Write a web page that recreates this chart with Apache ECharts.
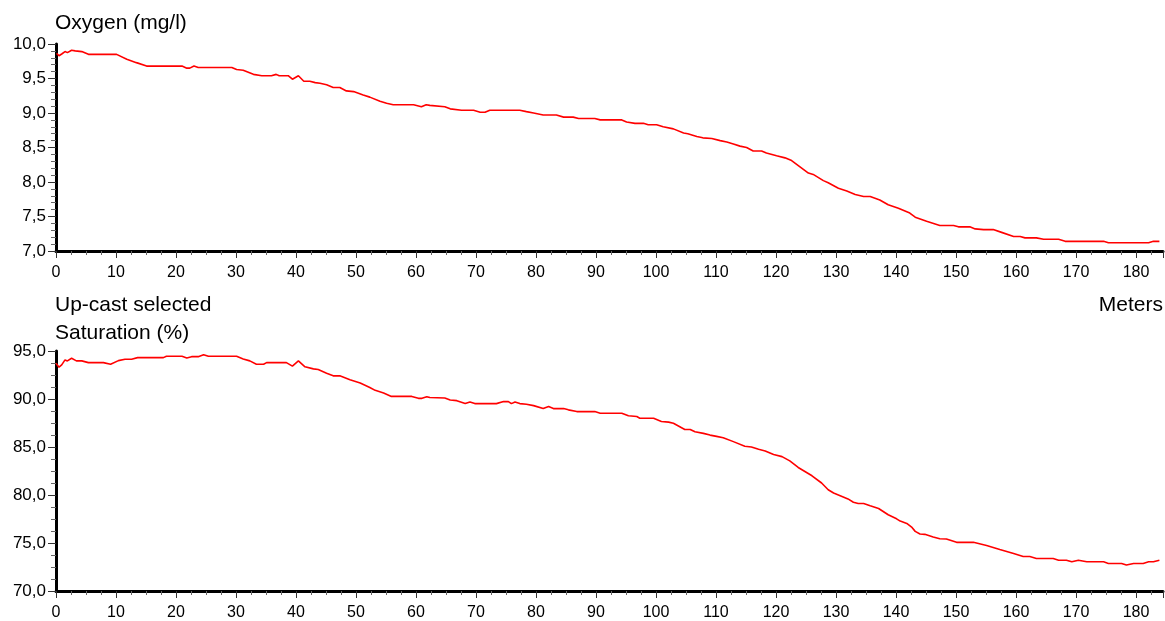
<!DOCTYPE html>
<html>
<head>
<meta charset="utf-8">
<script src="https://cdn.jsdelivr.net/npm/echarts@6/dist/echarts.min.js"></script>
<style>
html,body{margin:0;padding:0;background:#fff;}
#chart{width:1165px;height:621px;}
</style>
</head>
<body>
<div id="chart"></div>
<script>
// Depth in meters and values
const oxyDepth = [0.1,0.5,0.95,1.5,1.9,2.6,3.2,4.3,5.4,10.1,11.8,13.4,15.1,21.0,21.8,22.3,23.0,23.7,29.3,30.1,31.2,32.9,34.3,35.9,36.7,37.2,38.7,39.4,40.4,41.3,42.3,43.2,44.0,45.1,46.2,47.3,48.4,49.6,51.2,52.3,54.0,55.1,56.2,59.6,60.9,61.7,62.3,64.8,65.7,67.6,69.6,70.7,71.5,72.3,77.3,78.4,79.6,81.2,83.4,84.6,86.2,87.1,89.8,90.7,94.3,95.1,96.5,97.9,98.7,100.1,101.2,102.9,104.6,105.3,106.8,107.8,109.3,110.7,111.8,112.9,114.0,115.1,116.2,117.6,118.4,120.1,121.5,122.6,124.0,125.4,126.2,127.9,128.7,130.4,131.8,133.2,134.6,135.7,137.3,138.7,140.4,142.3,143.2,145.1,147.3,149.6,150.4,152.3,153.2,154.6,156.2,157.6,159.6,160.7,161.5,163.4,164.6,167.1,168.2,174.6,175.4,182.1,182.9,183.9];
const oxyValue = [9.865,9.83,9.855,9.89,9.875,9.91,9.90,9.89,9.85,9.85,9.78,9.73,9.68,9.68,9.65,9.65,9.68,9.66,9.66,9.63,9.62,9.56,9.54,9.54,9.56,9.54,9.54,9.49,9.54,9.46,9.46,9.44,9.43,9.41,9.37,9.37,9.32,9.31,9.26,9.23,9.17,9.14,9.12,9.12,9.09,9.12,9.11,9.09,9.06,9.04,9.04,9.01,9.01,9.04,9.04,9.02,9.00,8.97,8.97,8.94,8.94,8.92,8.92,8.90,8.90,8.87,8.85,8.85,8.83,8.83,8.80,8.77,8.71,8.70,8.66,8.64,8.63,8.60,8.58,8.55,8.52,8.50,8.45,8.45,8.42,8.38,8.35,8.31,8.22,8.13,8.11,8.02,7.99,7.91,7.87,7.82,7.79,7.79,7.74,7.67,7.62,7.55,7.49,7.43,7.37,7.37,7.35,7.35,7.32,7.31,7.31,7.27,7.21,7.21,7.19,7.19,7.17,7.17,7.14,7.14,7.12,7.12,7.14,7.14];

const satDepth = [0,0.3,0.5,0.95,1.5,1.9,2.6,3.4,4.3,5.4,7.9,9.1,10.4,11.5,12.6,13.6,17.9,18.4,21.0,21.8,22.6,23.7,24.6,25.4,30.1,31.2,32.3,33.4,34.6,35.1,38.4,39.4,40.4,41.5,42.9,43.7,45.1,46.2,47.3,49.0,50.7,52.3,53.2,54.6,55.9,59.3,60.4,61.0,61.8,62.3,64.8,65.7,66.8,68.2,69.0,69.8,73.4,74.6,75.4,75.9,76.5,77.3,78.4,79.6,81.2,82.1,82.9,84.6,85.4,86.8,89.8,90.7,94.3,95.4,96.8,97.3,97.6,98.2,99.6,100.9,102.1,102.9,104.8,105.7,106.5,107.9,109.0,110.1,111.2,112.9,114.8,115.9,117.1,118.2,119.6,121.0,122.3,123.7,124.0,126.0,127.6,128.7,129.6,130.7,132.0,132.9,133.7,134.6,135.7,137.1,138.7,140.1,140.7,141.8,142.6,143.2,144.0,144.8,146.2,147.3,148.4,150.1,152.9,155.1,157.3,159.6,161.2,162.3,163.4,166.2,167.1,168.4,169.3,170.4,171.8,174.6,175.4,177.6,178.4,179.6,181.2,182.1,182.9,183.9];
const satValue = [93.73,93.8,93.31,93.55,94.07,93.97,94.24,93.97,93.97,93.79,93.79,93.62,94.0,94.14,94.14,94.31,94.31,94.45,94.45,94.28,94.41,94.41,94.62,94.45,94.45,94.17,93.97,93.62,93.62,93.79,93.79,93.42,93.97,93.35,93.14,93.07,92.69,92.41,92.41,92.0,91.66,91.20,90.90,90.63,90.27,90.27,90.07,90.07,90.24,90.15,90.1,89.9,89.83,89.52,89.69,89.52,89.52,89.73,89.73,89.52,89.69,89.52,89.45,89.31,89.0,89.21,89.0,89.0,88.87,88.69,88.69,88.52,88.52,88.25,88.17,88.0,88.2,88.0,88.0,87.66,87.59,87.48,86.83,86.83,86.59,86.42,86.24,86.11,85.97,85.56,85.07,85.0,84.76,84.59,84.21,84.0,83.55,82.87,82.77,82.0,81.25,80.55,80.21,79.93,79.59,79.25,79.11,79.11,78.87,78.59,77.94,77.52,77.28,77.04,76.66,76.21,75.94,75.90,75.63,75.45,75.42,75.07,75.07,74.73,74.32,73.90,73.59,73.59,73.39,73.39,73.21,73.21,73.04,73.21,73.04,73.04,72.87,72.87,72.70,72.87,72.87,73.04,73.04,73.21];

const xTicks = {min: 0, max: 184.5, interval: 10};
const oxyTicks = {min: 7, max: 10, interval: 0.5};
const satTicks = {min: 70, max: 95, interval: 5};
const titles = {top: 'Oxygen (mg/l)', bottom1: 'Up-cast selected', bottom2: 'Saturation (%)', unit: 'Meters'};

const pairs = (xs, ys) => xs.map((x, i) => [x, ys[i]]);
const fontFam = '"Liberation Sans", Arial, sans-serif';

function xAxis(gridIndex) {
  return {
    type: 'value', gridIndex,
    min: xTicks.min, max: xTicks.max, interval: xTicks.interval,
    axisLine: {show: true, onZero: false, lineStyle: {color: '#000', width: 3}},
    axisTick: {show: true, inside: false, length: 7, lineStyle: {color: '#333', width: 1}},
    minorTick: {show: true, splitNumber: 4, length: 4, lineStyle: {color: '#666', width: 1}},
    splitLine: {show: false},
    axisLabel: {
      color: '#000', fontSize: 16, fontFamily: fontFam, margin: 14,
      showMaxLabel: false,
      formatter: v => (Math.abs(v % 10) < 1e-9 ? String(v) : '')
    }
  };
}
function yAxis(gridIndex, t, minorSplit) {
  return {
    type: 'value', gridIndex,
    min: t.min, max: t.max, interval: t.interval,
    axisLine: {show: true, onZero: false, lineStyle: {color: '#000', width: 3}},
    axisTick: {show: true, inside: false, length: 8, lineStyle: {color: '#333', width: 1}},
    minorTick: {show: true, splitNumber: minorSplit, length: 5, lineStyle: {color: '#666', width: 1}},
    splitLine: {show: false},
    axisLabel: {
      color: '#000', fontSize: 17, fontFamily: fontFam, margin: 10,
      formatter: v => v.toFixed(1).replace('.', ',')
    }
  };
}

const chart = echarts.init(document.getElementById('chart'), null, {renderer: 'canvas'});
const titleStyle = {color: '#000', fontSize: 21, fontWeight: 'normal', fontFamily: fontFam};
chart.setOption({
  backgroundColor: '#fff',
  animation: false,
  title: [
    {text: titles.top, left: 55, top: 13, padding: 0, textStyle: titleStyle},
    {text: titles.bottom1, left: 55, top: 295, padding: 0, textStyle: titleStyle},
    {text: titles.bottom2, left: 55, top: 323, padding: 0, textStyle: titleStyle},
    {text: titles.unit, right: 2, top: 295, padding: 0, textStyle: titleStyle}
  ],
  grid: [
    {left: 56, top: 44, width: 1107, height: 207, containLabel: false},
    {left: 56, top: 351, width: 1107, height: 241.5, containLabel: false}
  ],
  xAxis: [xAxis(0), xAxis(1)],
  yAxis: [yAxis(0, oxyTicks, 5), yAxis(1, satTicks, 4)],
  series: [
    {type: 'line', xAxisIndex: 0, yAxisIndex: 0, data: pairs(oxyDepth, oxyValue),
     showSymbol: false, lineStyle: {color: '#ff0000', width: 1.6}, z: 1},
    {type: 'line', xAxisIndex: 1, yAxisIndex: 1, data: pairs(satDepth, satValue),
     showSymbol: false, lineStyle: {color: '#ff0000', width: 1.6}, z: 1}
  ]
});
</script>
</body>
</html>
